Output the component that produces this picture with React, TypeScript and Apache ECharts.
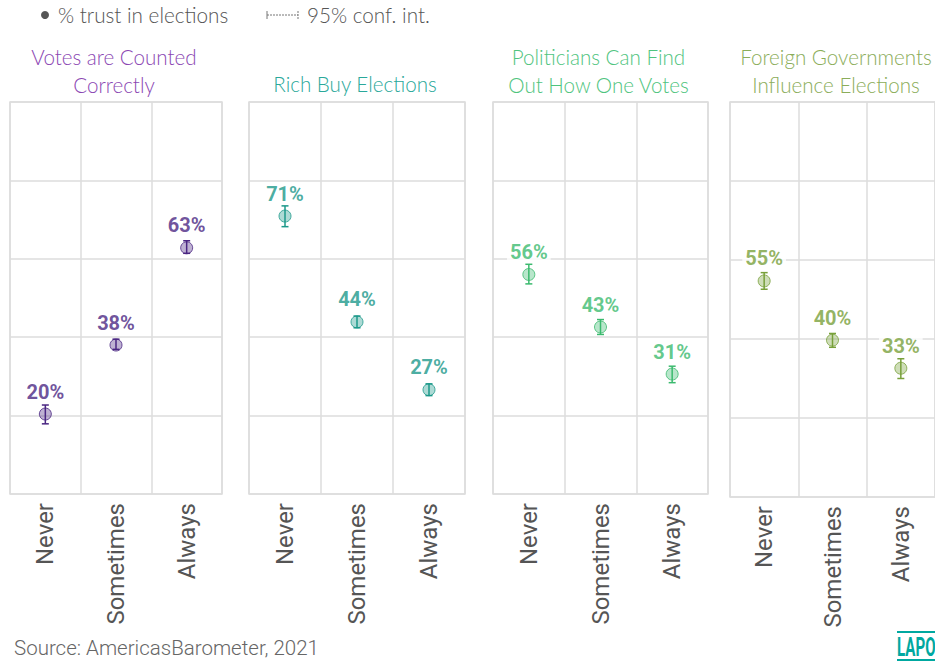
import React, { useEffect, useRef } from "react";
import * as echarts from "echarts";

const categories = ["Never", "Sometimes", "Always"];
const panelTitles = [
  "Votes are Counted\nCorrectly",
  "Rich Buy Elections",
  "Politicians Can Find\nOut How One Votes",
  "Foreign Governments\nInfluence Elections",
];

// % trust in elections by panel
const votesCountedValues = [20.4, 38.0, 62.8];
const votesCountedLow = [17.9, 36.9, 61.4];
const votesCountedHigh = [22.7, 39.5, 64.6];

const richBuyValues = [70.9, 43.9, 26.6];
const richBuyLow = [68.2, 42.4, 25.1];
const richBuyHigh = [73.5, 45.4, 28.1];

const politiciansValues = [56.0, 42.6, 30.6];
const politiciansLow = [53.6, 40.7, 28.4];
const politiciansHigh = [58.6, 44.5, 32.6];

const foreignValues = [54.7, 39.7, 32.6];
const foreignLow = [52.6, 37.9, 30.0];
const foreignHigh = [56.8, 41.4, 35.0];

const yTicks = [0, 20, 40, 60, 80, 100];

const panels = [
  { values: votesCountedValues, low: votesCountedLow, high: votesCountedHigh, title: "#8b47b3", main: "#4a2682" },
  { values: richBuyValues, low: richBuyLow, high: richBuyHigh, title: "#2aa89a", main: "#1c988a" },
  { values: politiciansValues, low: politiciansLow, high: politiciansHigh, title: "#4fc47e", main: "#3bba6e" },
  { values: foreignValues, low: foreignLow, high: foreignHigh, title: "#8bad5a", main: "#78a03a" },
];

const grids = [
  { left: 10, top: 102, width: 212, height: 392 },
  { left: 249, top: 102, width: 216, height: 392 },
  { left: 493, top: 102, width: 215, height: 392 },
  { left: 730, top: 102, width: 216, height: 395 },
];

function hexToRgba(hex: string, a: number) {
  const n = parseInt(hex.slice(1), 16);
  return `rgba(${(n >> 16) & 255},${(n >> 8) & 255},${n & 255},${a})`;
}

export default function App() {
  const ref = useRef<HTMLDivElement>(null);
  useEffect(() => {
    document.body.style.margin = "0";
    if (!ref.current) return;
    const chart = echarts.init(ref.current, null, { renderer: "svg" });

    const xAxis: any[] = [];
    const yAxis: any[] = [];
    const series: any[] = [];
    const graphic: any[] = [];

    panels.forEach((p, i) => {
      xAxis.push({
        type: "category",
        gridIndex: i,
        data: categories,
        axisLine: { show: false },
        axisTick: { show: false },
        splitLine: { show: true, interval: 0, lineStyle: { color: "#dddddd", width: 1.5 } },
        axisLabel: {
          rotate: 90,
          interval: 0,
          margin: 9,
          color: "#555555",
          fontSize: 24,
          fontFamily: "Roboto",
        },
      });
      yAxis.push({
        type: "value",
        gridIndex: i,
        min: yTicks[0],
        max: yTicks[yTicks.length - 1],
        interval: yTicks[1] - yTicks[0],
        axisLabel: { show: false },
        axisLine: { show: false },
        axisTick: { show: false },
        splitLine: { show: true, lineStyle: { color: "#dddddd", width: 1.5 } },
      });
      series.push({
        type: "custom",
        xAxisIndex: i,
        yAxisIndex: i,
        z: 3,
        data: categories.map((c, k) => [k, p.low[k], p.high[k]]),
        renderItem: (params: any, api: any) => {
          const x = api.value(0);
          const lo = api.coord([x, api.value(1)]);
          const hi = api.coord([x, api.value(2)]);
          const cap = 3.5;
          const st = { stroke: p.main, lineWidth: 1.5 };
          return {
            type: "group",
            children: [
              { type: "line", shape: { x1: lo[0], y1: lo[1], x2: hi[0], y2: hi[1] }, style: st },
              { type: "line", shape: { x1: lo[0] - cap, y1: lo[1], x2: lo[0] + cap, y2: lo[1] }, style: st },
              { type: "line", shape: { x1: hi[0] - cap, y1: hi[1], x2: hi[0] + cap, y2: hi[1] }, style: st },
            ],
          };
        },
      });
      series.push({
        type: "scatter",
        xAxisIndex: i,
        yAxisIndex: i,
        z: 4,
        symbol: "circle",
        symbolSize: 12,
        data: p.values,
        itemStyle: { color: hexToRgba(p.main, 0.45), borderColor: p.main, borderWidth: 1 },
        label: {
          show: true,
          position: "top",
          distance: 6,
          formatter: (d: any) => Math.round(d.value) + "%",
          color: p.main,
          fontFamily: "Roboto",
          fontWeight: "bold",
          fontSize: 20,
          lineHeight: 20,
          backgroundColor: "#ffffff",
          padding: [0, 3],
        },
      });
      const g = grids[i];
      const lines = panelTitles[i].split("\n");
      lines.forEach((t, j) => {
        const y = lines.length === 2 ? (j === 0 ? 57 : 85) : 84;
        graphic.push({
          type: "text",
          x: g.left + g.width / 2 - 2,
          y,
          style: {
            text: t,
            fill: p.title,
            font: "300 20.6px Lato",
            align: "center",
            verticalAlign: "middle",
          },
        });
      });
    });

    // legend
    graphic.push({ type: "circle", shape: { cx: 45, cy: 15, r: 4 }, style: { fill: "#555555" } });
    graphic.push({
      type: "text",
      x: 58,
      y: 15,
      style: { text: "% trust in elections", fill: "#555555", font: "300 20.7px Lato", verticalAlign: "middle" },
    });
    graphic.push({ type: "line", shape: { x1: 267, y1: 15, x2: 298, y2: 15 }, style: { stroke: "#777777", lineWidth: 1, lineDash: [2, 1] } });
    graphic.push({ type: "line", shape: { x1: 267, y1: 11, x2: 267, y2: 19 }, style: { stroke: "#777777", lineWidth: 1 } });
    graphic.push({ type: "line", shape: { x1: 298, y1: 11, x2: 298, y2: 19 }, style: { stroke: "#777777", lineWidth: 1, lineDash: [2, 1] } });
    graphic.push({
      type: "text",
      x: 307,
      y: 15,
      style: { text: "95% conf. int.", fill: "#555555", font: "300 20.7px Lato", verticalAlign: "middle" },
    });

    // source
    graphic.push({
      type: "text",
      x: 14,
      y: 648,
      style: { text: "Source: AmericasBarometer, 2021", fill: "#666666", font: "300 20.5px Roboto", verticalAlign: "middle" },
    });

    // logo (cropped at the right edge in the reference)
    graphic.push({ type: "rect", shape: { x: 897, y: 631, width: 40, height: 2 }, style: { fill: "#00a8a0" } });
    graphic.push({ type: "rect", shape: { x: 897, y: 659, width: 40, height: 2 }, style: { fill: "#00a8a0" } });
    graphic.push({
      type: "text",
      x: 897,
      y: 646.5,
      scaleX: 0.58,
      style: { text: "LAPO", fill: "#00a8a0", font: "bold 26px Roboto", verticalAlign: "middle" },
    });

    chart.setOption({
      animation: false,
      grid: grids.map((g) => ({ ...g, show: true, borderColor: "#dddddd", borderWidth: 1.5, containLabel: false })),
      xAxis,
      yAxis,
      series,
      graphic,
    });
    return () => chart.dispose();
  }, []);
  return <div ref={ref} style={{ width: 935, height: 663 }} />;
}
